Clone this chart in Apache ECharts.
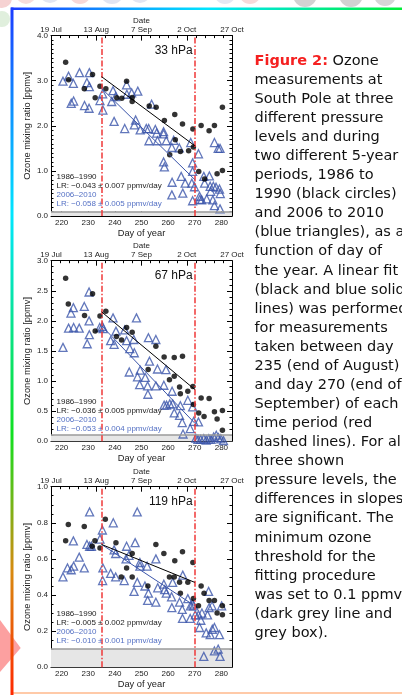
<!DOCTYPE html>
<html>
<head>
<meta charset="utf-8">
<script src="https://cdn.jsdelivr.net/npm/echarts@6/dist/echarts.min.js"></script>
<style>
html, body { margin: 0; padding: 0; background: #fff; overflow: hidden; }
#main { width: 402px; height: 695px; }
</style>
</head>
<body>
<div id="main"></div>
<script>
// ---- data: [day of year, ozone mixing ratio ppmv] ----
var hpa33_8690 = [[221.5,3.41],[222.6,3.02],[228.5,2.82],[231.6,3.14],[232.6,2.62],[234.4,2.88],[236.6,2.82],[240.7,2.62],[242.6,2.61],[244.4,2.99],[246.5,2.63],[246.5,2.54],[252.9,2.44],[255.5,2.41],[258.6,2.12],[260.6,1.36],[262.5,2.25],[262.7,1.69],[264.6,1.43],[265.4,2.04],[267.7,1.45],[269.3,1.93],[269.5,1.53],[271.5,0.99],[272.4,2.01],[273.7,0.82],[275.4,1.89],[277.4,2.01],[278.4,0.94],[280.4,2.41],[280.4,1.01]];
var hpa33_0610 = [[220.5,2.99],[222.6,3.10],[224.4,2.94],[223.6,2.50],[224.5,2.55],[226.7,3.18],[228.6,2.45],[229.5,2.96],[230.3,2.39],[230.4,3.18],[230.4,2.87],[234.4,2.56],[235.4,2.71],[235.5,2.35],[239.3,2.78],[238.8,2.54],[239.7,2.10],[240.3,2.65],[243.7,1.94],[244.4,2.91],[244.5,2.70],[246.3,2.73],[247.3,2.02],[247.8,2.13],[248.6,2.77],[249.5,1.91],[251.8,1.94],[252.7,1.94],[253.8,2.48],[252.8,1.67],[256.0,1.67],[255.7,1.84],[255.2,1.92],[258.3,1.87],[258.3,1.82],[259.3,1.67],[258.3,1.20],[258.6,1.09],[261.4,1.52],[262.1,1.68],[261.5,0.75],[261.4,0.47],[264.2,1.51],[264.9,0.88],[265.5,0.51],[266.4,0.73],[268.5,1.63],[269.2,1.18],[269.2,0.99],[268.9,0.73],[269.9,0.65],[269.2,0.34],[271.4,1.38],[271.8,0.44],[271.9,0.37],[272.6,0.36],[273.4,0.88],[273.7,0.73],[274.5,0.38],[275.5,0.89],[275.8,0.66],[276.0,0.55],[277.0,0.66],[277.4,1.63],[278.0,0.64],[278.8,1.50],[279.5,1.50],[279.3,0.60],[279.6,0.50],[277.4,0.23],[279.5,0.16],[276.8,0.36]];
var hpa67_8690 = [[221.5,2.71],[222.5,2.28],[228.6,2.09],[231.6,2.45],[232.6,1.83],[234.4,2.08],[236.6,2.16],[240.6,1.74],[242.5,1.68],[244.4,1.89],[246.5,1.81],[255.4,1.58],[252.5,1.19],[258.5,1.40],[260.5,1.02],[262.3,1.08],[262.3,1.39],[264.3,0.90],[264.6,0.79],[265.4,1.41],[267.4,0.83],[269.3,0.91],[269.5,0.61],[271.5,0.47],[272.4,0.72],[273.5,0.41],[275.4,0.71],[277.4,0.49],[278.4,0.37],[280.4,0.51],[280.4,0.18]];
var hpa67_0610 = [[220.5,1.56],[222.6,1.88],[223.5,2.13],[224.4,2.22],[224.5,1.89],[226.6,1.88],[228.5,2.24],[229.6,1.62],[230.3,2.0],[230.4,1.77],[230.3,2.48],[234.3,1.89],[235.3,1.91],[235.6,1.87],[238.4,1.67],[239.3,2.05],[239.7,1.61],[240.4,1.83],[243.7,1.85],[244.4,1.67],[245.4,1.15],[245.6,1.54],[247.1,1.69],[247.3,1.47],[248.1,2.05],[248.5,1.07],[249.5,1.18],[249.3,0.94],[251.4,1.06],[252.4,0.78],[252.6,1.72],[253.0,1.33],[252.3,0.92],[255.4,1.69],[256.0,1.20],[255.4,0.92],[258.4,0.93],[259.2,1.19],[258.5,0.60],[259.4,0.60],[260.6,0.62],[261.5,0.83],[261.7,0.62],[262.3,0.47],[264.3,0.43],[264.6,0.59],[265.3,0.31],[265.6,0.12],[267.4,0.68],[268.3,0.21],[269.2,0.57],[269.6,0.33],[271.4,0.32],[270.4,0.05],[271.2,0.03],[272.2,0.03],[273.4,0.04],[274.3,0.02],[275.3,0.04],[276.1,0.03],[277.1,0.07],[278.1,0.10],[278.9,0.06],[279.8,0.04],[280.8,0.01]];
var hpa119_8690 = [[221.5,0.70],[222.5,0.79],[228.5,0.78],[231.5,0.67],[232.5,0.70],[234.4,0.66],[236.4,0.82],[240.4,0.69],[242.4,0.50],[244.4,0.55],[246.5,0.63],[246.5,0.50],[252.4,0.45],[255.4,0.68],[258.4,0.63],[260.5,0.50],[262.3,0.50],[262.5,0.59],[264.3,0.47],[264.6,0.41],[265.4,0.64],[267.4,0.47],[269.3,0.58],[269.5,0.38],[271.4,0.34],[272.4,0.45],[273.5,0.41],[275.4,0.37],[277.4,0.37],[278.4,0.30],[280.4,0.29],[280.4,0.34]];
var hpa119_0610 = [[220.5,0.50],[222.2,0.55],[223.6,0.54],[224.5,0.56],[224.4,0.70],[226.6,0.61],[228.5,0.55],[229.5,0.68],[230.5,0.86],[230.5,0.67],[231.2,0.67],[234.4,0.71],[235.3,0.76],[235.5,0.55],[235.4,0.48],[238.4,0.52],[239.4,0.80],[240.3,0.50],[239.7,0.65],[240.3,0.63],[243.5,0.48],[244.4,0.67],[244.2,0.60],[245.3,0.62],[247.2,0.42],[247.6,0.69],[248.4,0.86],[249.4,0.58],[249.4,0.56],[248.4,0.47],[251.3,0.45],[252.1,0.56],[252.6,0.41],[252.3,0.37],[255.4,0.60],[255.4,0.36],[256.1,0.44],[258.4,0.46],[258.7,0.43],[259.3,0.41],[261.3,0.39],[261.4,0.33],[261.7,0.47],[264.3,0.36],[265.3,0.32],[265.5,0.51],[265.4,0.27],[267.4,0.38],[268.3,0.27],[268.4,0.34],[269.2,0.35],[269.6,0.34],[270.2,0.29],[271.4,0.29],[271.8,0.22],[272.3,0.26],[272.7,0.30],[273.4,0.06],[274.3,0.19],[274.8,0.29],[275.2,0.42],[275.4,0.33],[275.8,0.18],[276.5,0.34],[276.6,0.21],[277.4,0.22],[277.4,0.09],[278.8,0.10],[279.3,0.18],[279.5,0.06],[280.1,0.34]];

// linear fits between day 235 and day 270
var fit33_8690 = [[235,3.09],[270,1.56]];
var fit33_0610 = [[235,2.83],[270,0.81]];
var fit67_8690 = [[235,2.15],[270,0.86]];
var fit67_0610 = [[235,1.92],[270,0.30]];
var fit119_8690 = [[235,0.68],[270,0.47]];
var fit119_0610 = [[235,0.68],[270,0.34]];

var panelNames = ['33 hPa', '67 hPa', '119 hPa'];
var yMax = [4, 3, 1];
var yStep = [1, 0.5, 0.2];
var yMinorSplit = [10, 5, 4];
var dayTicks = [220, 230, 240, 250, 260, 270, 280];
var dateLabels = ['19 Jul', '13 Aug', '7 Sep', '2 Oct', '27 Oct'];
var lrOld = ['LR: \u22120.043 \u00b1 0.007 ppmv/day', 'LR: \u22120.036 \u00b1 0.005 ppmv/day', 'LR: \u22120.005 \u00b1 0.002 ppmv/day'];
var lrNew = ['LR: \u22120.058 \u00b1 0.005 ppmv/day', 'LR: \u22120.053 \u00b1 0.004 ppmv/day', 'LR: \u22120.010 \u00b1 0.001 ppmv/day'];
var fitStart = 235, fitEnd = 270, threshold = 0.1;

var captionLines = [
  '{r|Figure 2:} Ozone', 'measurements at', 'South Pole at three', 'different pressure',
  'levels and during', 'two different 5-year', 'periods, 1986 to', '1990 (black circles)',
  'and 2006 to 2010', '(blue triangles), as a', 'function of day of', 'the year. A linear fit',
  '(black and blue solid', 'lines) was performed', 'for measurements', 'taken between day',
  '235 (end of August)', 'and day 270 (end of', 'September) of each', 'time period (red',
  'dashed lines). For all', 'three shown', 'pressure levels, the', 'differences in slopes',
  'are significant. The', 'minimum ozone', 'threshold for the', 'fitting procedure',
  'was set to 0.1 ppmv', '(dark grey line and', 'grey box).'
];

var oldData = [hpa33_8690, hpa67_8690, hpa119_8690];
var newData = [hpa33_0610, hpa67_0610, hpa119_0610];
var oldFit = [fit33_8690, fit67_8690, fit119_8690];
var newFit = [fit33_0610, fit67_0610, fit119_0610];

// ---- layout ----
var gridLeft = 51, gridW = 181, gridH = 180.5;
var tops = [35.6, 260.7, 486.7];
var legendTop = [141, 141, 127.3];
var BLUE = '#3b55aa', BLUE_TXT = '#5470c4', RED = '#f03838';
var axFont = 'Liberation Sans';

var dayMinor = [];
for (var d = 217; d <= 283; d++) dayMinor.push(d);

var grids = [], xAxes = [], yAxes = [], series = [], graphics = [];

function tickStyle(len) {
  return { show: true, inside: true, length: len, lineStyle: { color: '#000', width: 1 } };
}

for (var i = 0; i < 3; i++) {
  grids.push({ left: gridLeft, top: tops[i], width: gridW, height: gridH });

  // bottom: day of year
  xAxes.push({
    gridIndex: i, type: 'value', position: 'bottom', min: 216, max: 284,
    axisLine: { lineStyle: { color: '#000', width: 1 } },
    axisTick: Object.assign(tickStyle(5), { customValues: dayTicks }),
    axisLabel: { customValues: dayTicks, margin: 3, fontSize: 8, color: '#222', fontFamily: axFont },
    splitLine: { show: false },
    name: 'Day of year', nameLocation: 'middle', nameGap: 13,
    nameTextStyle: { fontSize: 9.3, color: '#222', fontFamily: axFont }
  });
  // bottom minor ticks
  xAxes.push({
    gridIndex: i, type: 'value', position: 'bottom', min: 216, max: 284,
    axisLine: { show: false }, axisLabel: { show: false }, splitLine: { show: false },
    axisTick: Object.assign(tickStyle(2.5), { customValues: dayMinor })
  });
  // top: date
  xAxes.push({
    gridIndex: i, type: 'value', position: 'top', min: 0, max: 4, interval: 1,
    axisLine: { lineStyle: { color: '#000', width: 1 } },
    axisTick: tickStyle(5),
    minorTick: { show: true, splitNumber: 5, length: 2.5, lineStyle: { color: '#000' } },
    axisLabel: { margin: 2, fontSize: 8, color: '#222', fontFamily: axFont,
      formatter: function (v) { return dateLabels[Math.round(v)]; } },
    splitLine: { show: false },
    name: 'Date', nameLocation: 'middle', nameGap: 8,
    nameTextStyle: { fontSize: 8, color: '#222', fontFamily: axFont }
  });

  yAxes.push({
    gridIndex: i, type: 'value', position: 'left', min: 0, max: yMax[i], interval: yStep[i],
    axisLine: { lineStyle: { color: '#000', width: 1 } },
    axisTick: tickStyle(5),
    minorTick: { show: true, splitNumber: yMinorSplit[i], length: 2.5, lineStyle: { color: '#000' } },
    axisLabel: { margin: 3, fontSize: 8, color: '#222', fontFamily: axFont,
      formatter: function (v) { return v.toFixed(1); } },
    splitLine: { show: false },
    name: 'Ozone mixing ratio [ppmv]', nameLocation: 'middle', nameRotate: 90, nameGap: 19,
    nameTextStyle: { fontSize: 9.3, color: '#222', fontFamily: axFont }
  });
  yAxes.push({
    gridIndex: i, type: 'value', position: 'right', min: 0, max: yMax[i], interval: yStep[i],
    axisLine: { lineStyle: { color: '#000', width: 1 } },
    axisTick: tickStyle(5),
    minorTick: { show: true, splitNumber: yMinorSplit[i], length: 2.5, lineStyle: { color: '#000' } },
    axisLabel: { show: false }, splitLine: { show: false }
  });

  var xi = i * 3, yi = i * 2;

  // threshold box, threshold line and fit-period markers
  series.push({
    type: 'scatter', xAxisIndex: xi, yAxisIndex: yi, data: [], z: 1, silent: true,
    markArea: { silent: true, itemStyle: { color: '#e6e6e6' },
      data: [[{ yAxis: 0 }, { yAxis: threshold }]] },
    markLine: { silent: true, symbol: ['none', 'none'], label: { show: false },
      data: [{ yAxis: threshold, lineStyle: { color: '#9a9a9a', width: 1.5, type: 'solid' } }] }
  });
  series.push({
    type: 'scatter', name: '2006-2010', xAxisIndex: xi, yAxisIndex: yi, data: newData[i],
    symbol: 'triangle', symbolSize: 8, z: 3,
    itemStyle: { color: 'rgba(255,255,255,0)', borderColor: BLUE, borderWidth: 1.3 }
  });
  series.push({
    type: 'scatter', name: '1986-1990', xAxisIndex: xi, yAxisIndex: yi, data: oldData[i],
    symbol: 'circle', symbolSize: 5.5, z: 4, itemStyle: { color: '#000' }
  });
  series.push({
    type: 'line', xAxisIndex: xi, yAxisIndex: yi, data: newFit[i], symbol: 'none', z: 5,
    lineStyle: { color: BLUE, width: 1 }
  });
  series.push({
    type: 'line', xAxisIndex: xi, yAxisIndex: yi, data: oldFit[i], symbol: 'none', z: 5,
    lineStyle: { color: '#000', width: 1 },
    markLine: { silent: true, symbol: ['none', 'none'], label: { show: false },
      lineStyle: { color: RED, width: 1.5, type: [6, 2, 1.5, 2] },
      data: [{ xAxis: fitStart }, { xAxis: fitEnd }] }
  });

  // panel title and fit legend
  graphics.push({ type: 'text', x: 192.7, y: tops[i] + 15, z: 10,
    style: { text: panelNames[i], fill: '#111', fontSize: 12, fontFamily: axFont, align: 'right', verticalAlign: 'middle' } });
  var leg = [['1986\u20131990', '#222'], [lrOld[i], '#222'], ['2006\u20132010', BLUE_TXT], [lrNew[i], BLUE_TXT]];
  for (var k = 0; k < 4; k++) {
    graphics.push({ type: 'text', x: 56.5, y: tops[i] + legendTop[i] + k * 9, z: 10,
      style: { text: leg[k][0], fill: leg[k][1], fontSize: 8, fontFamily: axFont, align: 'left', verticalAlign: 'middle' } });
  }
}

// ---- slide decorations ----
var blobs = [[2, -2, 10, '#f6d2d2'], [2, 19, 8, '#e0efdd'], [26, -6, 10, '#f8dcdc'], [50, -8, 11, '#e3e6f2'],
  [80, -7, 11, '#f8d8d8'], [112, -8, 12, '#e1e5f2'], [140, -8, 11, '#e3e6f2'], [225, -7, 11, '#e5e8f3'],
  [250, -7, 11, '#f8dada'], [305, -5, 12, '#d2d2d2'], [351, -5, 12, '#d2d2d2'], [385, -5, 11, '#d6d6d6']];
blobs.forEach(function (b) {
  graphics.push({ type: 'circle', z: -20, shape: { cx: b[0], cy: b[1], r: b[2] }, style: { fill: b[3] } });
});
graphics.push({ type: 'rect', z: -15, shape: { x: 11, y: 9, width: 400, height: 700 }, style: { fill: '#fff' } });
graphics.push({ type: 'polygon', z: -10, shape: { points: [[0, 620], [20.7, 648], [0, 672]] }, style: { fill: '#fca0a0' } });
graphics.push({ type: 'rect', z: -5, shape: { x: 11, y: 7.5, width: 395, height: 2.6 },
  style: { fill: new echarts.graphic.LinearGradient(0, 0, 1, 0, [
    { offset: 0, color: '#1c3cff' }, { offset: 0.5, color: '#00e6ff' }, { offset: 1, color: '#00ee33' }]) } });
graphics.push({ type: 'rect', z: -4, shape: { x: 10.5, y: 7.5, width: 3, height: 688 },
  style: { fill: new echarts.graphic.LinearGradient(0, 0, 0, 1, [
    { offset: 0, color: '#1c3cff' }, { offset: 0.3, color: '#00e6ff' }, { offset: 0.62, color: '#10e020' },
    { offset: 0.82, color: '#d88a10' }, { offset: 1, color: '#ff2800' }]) } });
graphics.push({ type: 'rect', z: -5, shape: { x: 11, y: 692, width: 395, height: 2 }, style: { fill: '#ffcaa8' } });

// ---- caption ----
captionLines.forEach(function (t, j) {
  graphics.push({ type: 'text', x: 254.5, y: 61 + j * 19.07, z: 10,
    style: { text: t, fill: '#111', fontSize: 14.5, fontFamily: 'DejaVu Sans', align: 'left', verticalAlign: 'middle',
      rich: { r: { fill: '#f52020', fontWeight: 'bold', fontSize: 14.5, fontFamily: 'DejaVu Sans' } } } });
});

var chart = echarts.init(document.getElementById('main'), null, { renderer: 'canvas' });
chart.setOption({
  animation: false,
  backgroundColor: '#fff',
  grid: grids,
  xAxis: xAxes,
  yAxis: yAxes,
  series: series,
  graphic: { elements: graphics }
});
</script>
</body>
</html>
